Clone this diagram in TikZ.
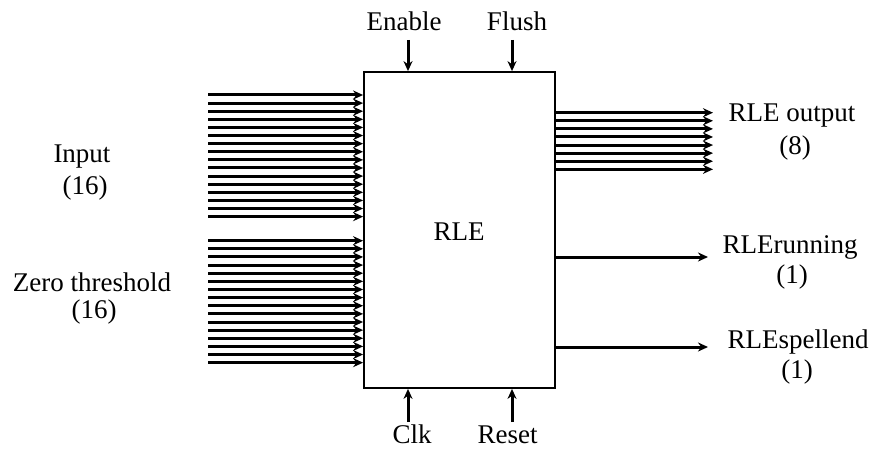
\documentclass[tikz,border=0pt]{standalone}
\usepackage{fontspec}
\setmainfont{Liberation Serif}
\usetikzlibrary{arrows.meta}
\tikzset{
  blk/.style={draw, line width=1.8pt, minimum width=191pt, minimum height=316pt, inner sep=0pt},
  lbl/.style={anchor=base, inner sep=0pt, font=\fontsize{27}{32}\selectfont},
  sig/.style={-{Stealth[length=10pt, width=9pt]}, line width=3pt},
}

\begin{document}
\begin{tikzpicture}[x=1pt, y=-1pt]
    \useasboundingbox (0,0) rectangle (874,449);
    \node[blk] (rle) at (459.5,230) {};
    \node[lbl] (rlename) at (459,240) {RLE};
    % input buses
    \foreach \i in {0,...,15} {
      \coordinate (in\i) at (208,95+\i*8.11);
      \draw[sig] (in\i) -- (in\i -| rle.west);
      \coordinate (zt\i) at (208,240.7+\i*8.13);
      \draw[sig] (zt\i) -- (zt\i -| rle.west);
    }
    \node[lbl] (input) at (82,162) {Input};
    \node[lbl] (inputw) at (85,194) {(16)};
    \node[lbl] (zero) at (92,291) {Zero threshold};
    \node[lbl] (zerow) at (94,318) {(16)};
    % output bus
    \foreach \i in {0,...,7} {
      \coordinate (out\i) at (713,112.7+\i*8.09);
      \draw[sig] (out\i -| rle.east) -- (out\i);
    }
    \node[lbl] (output) at (792,122) {RLE output};
    \node[lbl] (outputw) at (795,155) {(8)};
    \coordinate (run) at (708,257);
    \draw[sig] (run -| rle.east) -- (run);
    \node[lbl] (running) at (790,253) {RLErunning};
    \node[lbl] (runningw) at (792,283) {(1)};
    \coordinate (spell) at (708,347);
    \draw[sig] (spell -| rle.east) -- (spell);
    \node[lbl] (spellend) at (798,348) {RLEspellend};
    \node[lbl] (spellendw) at (797,378) {(1)};
    % control lines
    \coordinate (en) at (408,40);
    \draw[sig] (en) -- (en |- rle.north);
    \node[lbl] (enable) at (404,31) {Enable};
    \coordinate (fl) at (512,40);
    \draw[sig] (fl) -- (fl |- rle.north);
    \node[lbl] (flush) at (517,31) {Flush};
    \coordinate (ck) at (408,422);
    \draw[sig] (ck) -- (ck |- rle.south);
    \node[lbl] (clk) at (412,443) {Clk};
    \coordinate (rs) at (512,422);
    \draw[sig] (rs) -- (rs |- rle.south);
    \node[lbl] (reset) at (507.5,443) {Reset};
\end{tikzpicture}
\end{document}
